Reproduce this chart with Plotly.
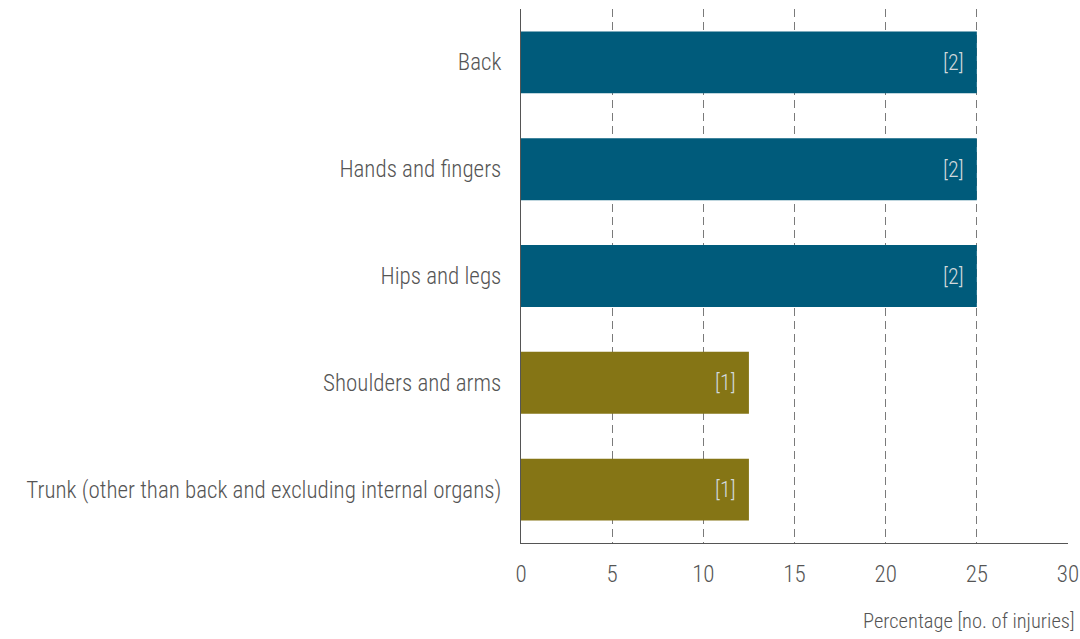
import plotly.graph_objects as go

categories = ["Back", "Hands and fingers", "Hips and legs", "Shoulders and arms",
              "Trunk (other than back and excluding internal organs)"]
percentages = [25, 25, 25, 12.5, 12.5]
injuries = ["[2]", "[2]", "[2]", "[1]", "[1]"]
colors = ["#005b7b", "#005b7b", "#005b7b", "#857515", "#857515"]
x_ticks = [0, 5, 10, 15, 20, 25, 30]

FONT = "Roboto Condensed, Liberation Sans Narrow, Roboto, sans-serif"

fig = go.Figure(go.Bar(
    y=categories, x=percentages, orientation="h",
    marker=dict(color=colors, line=dict(width=0)),
    width=0.58, hoverinfo="x+y",
))

for cat, val, lab in zip(categories, percentages, injuries):
    fig.add_annotation(
        x=val, y=cat, xref="x", yref="y", text=lab, showarrow=False,
        xanchor="right", yanchor="middle", xshift=-11,
        font=dict(family=FONT, size=22, color="#d2d9dc", weight=300),
    )

fig.update_layout(
    width=1080, height=639,
    margin=dict(l=521, r=12, t=8.5, b=95.5, autoexpand=False),
    paper_bgcolor="white", plot_bgcolor="white",
    showlegend=False,
    font=dict(family=FONT, color="#555555", weight=300),
)
fig.update_xaxes(
    range=[0, 30], tickvals=x_ticks, ticktext=[str(v) for v in x_ticks],
    showgrid=True, gridcolor="#7a7a7a", griddash="8px,5px", gridwidth=1.2,
    showline=True, linecolor="#555555", linewidth=1, automargin=False,
    tickfont=dict(size=23, color="#555555", weight=300), ticks="", ticklabelstandoff=10,
    zeroline=False,
)
fig.update_yaxes(
    categoryorder="array", categoryarray=categories,
    range=[4.5, -0.5], autorange=False, automargin=False,
    showline=True, linecolor="#555555", linewidth=1,
    tickfont=dict(size=23, color="#555555", weight=300), ticks="", ticklabelstandoff=14,
    showgrid=False,
)
fig.add_annotation(
    text="Percentage [no. of injuries]", xref="paper", yref="paper",
    x=1.0, xshift=9, y=-0.12, xanchor="right", yanchor="top", showarrow=False,
    font=dict(family=FONT, size=20.5, color="#555555", weight=300),
)

fig.write_html("out.html", config={"displayModeBar": False},
               post_script="document.body.style.margin='0';")
